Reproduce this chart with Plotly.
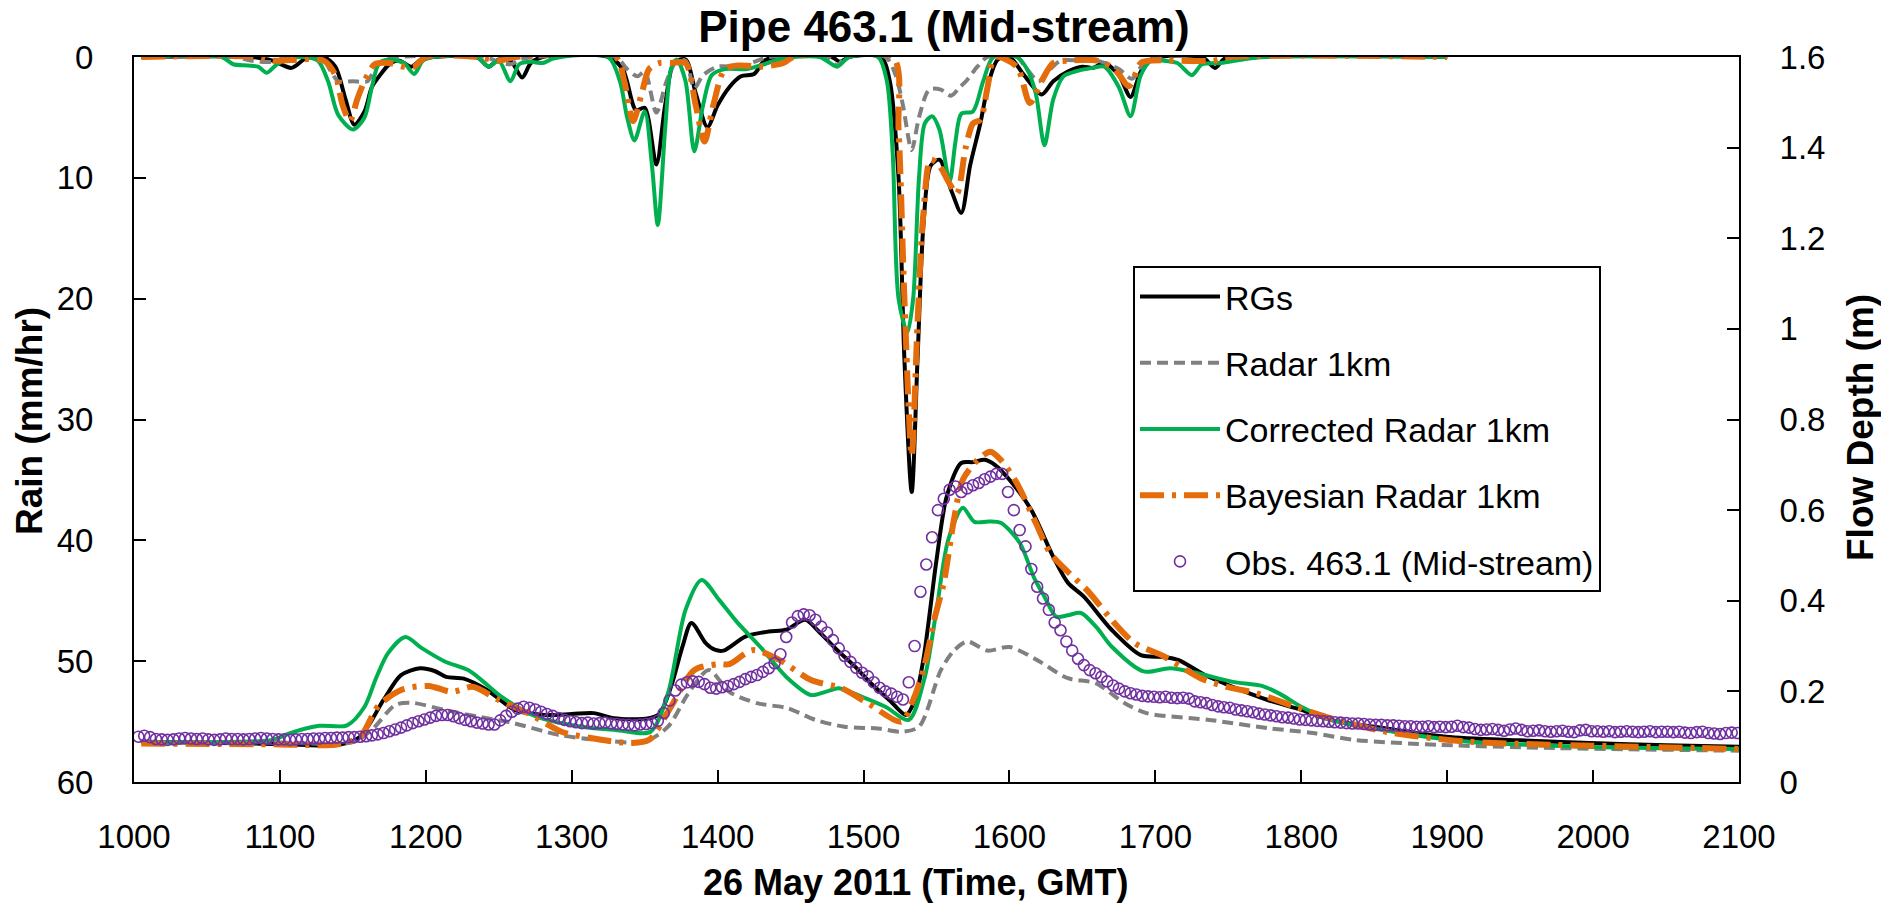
import plotly.graph_objects as go

# ---------------- data ----------------
# Rainfall (mm/hr) on the reversed left axis; time axis is 26 May 2011 (HHMM-like scale)
rg_rain_t = [1005, 1080, 1095, 1108, 1118, 1130, 1138, 1145, 1151, 1158,
             1163, 1168, 1175, 1182, 1190, 1197, 1205, 1235, 1243, 1250,
             1258, 1266, 1272, 1280, 1325, 1335, 1344, 1350, 1358, 1364,
             1370, 1378, 1385, 1393, 1400, 1408, 1416, 1425, 1432, 1440,
             1478, 1484, 1490, 1512, 1518, 1524, 1528, 1533, 1537, 1541,
             1546, 1552, 1560, 1567, 1573, 1580, 1586, 1592, 1600, 1610,
             1622, 1630, 1640, 1650, 1657, 1665, 1675, 1683, 1690, 1697,
             1732, 1741, 1748, 1900]
rg_rain = [0, 0, 0.3, 0.9, 0.1, 0, 0.8, 3.5, 5.6, 4.5,
           2.5, 1.6, 0.6, 0.3, 0.8, 0.2, 0, 0, 0.8, 0.2,
           0.3, 1.7, 0.5, 0, 0, 1.0, 4.4, 4.2, 8.9, 4.0,
           0.5, 0.2, 3.0, 5.8, 4.0, 2.5, 1.6, 1.4, 0.3, 0,
           0, 0.4, 0, 0, 2.0, 10, 25, 36, 25, 14,
           9, 8.5, 11, 12.9, 9, 5.5, 2, 0.2, 0, 1.5,
           3.1, 2.0, 1.2, 0.8, 0.9, 0.5, 1.5, 3.3, 1.2, 0.2,
           0, 0.9, 0.1, 0]

radar_rain_t = [1005, 1070, 1080, 1095, 1105, 1128, 1135, 1140, 1150, 1160,
                1165, 1172, 1180, 1240, 1250, 1258, 1265, 1275, 1330, 1338,
                1345, 1350, 1358, 1365, 1372, 1378, 1384, 1390, 1400, 1415,
                1425, 1435, 1475, 1482, 1488, 1515, 1522, 1527, 1533, 1538,
                1545, 1553, 1560, 1566, 1571, 1578, 1585, 1605, 1612, 1620,
                1628, 1635, 1650, 1660, 1675, 1684, 1692, 1700, 1900]
radar_rain = [0, 0, 0.3, 0.4, 0, 0, 1.2, 2.0, 2.0, 2.0,
              1.0, 0.2, 0, 0, 0.4, 0.6, 0.2, 0, 0, 1.0,
              1.6, 1.2, 4.6, 2.0, 0.3, 0.3, 2.6, 1.5, 0.8, 0.8,
              0.4, 0, 0, 0.7, 0, 0, 1.5, 4, 7.7, 5,
              2.7, 2.7, 3.2, 2.5, 1.9, 0.8, 0, 0, 1.0, 2.0,
              1.0, 0.3, 0.3, 0.3, 1.0, 1.8, 0.5, 0, 0]

corr_rain_t = [1005, 1060, 1068, 1078, 1085, 1091, 1098, 1105, 1115, 1126,
               1133, 1140, 1150, 1158, 1163, 1168, 1175, 1185, 1192, 1198,
               1205, 1235, 1243, 1250, 1258, 1264, 1272, 1280, 1288, 1325,
               1333, 1338, 1343, 1350, 1355, 1359, 1364, 1368, 1372, 1378,
               1384, 1390, 1396, 1405, 1420, 1432, 1445, 1470, 1482, 1490,
               1510, 1516, 1520, 1524, 1530, 1534, 1538, 1542, 1547, 1552,
               1559, 1563, 1567, 1575, 1582, 1589, 1605, 1612, 1618, 1624,
               1630, 1637, 1645, 1657, 1665, 1675, 1683, 1690, 1697, 1705,
               1715, 1725, 1732, 1745, 1760, 1775, 1900]
corr_rain = [0, 0, 0.6, 0.7, 0.8, 1.3, 0.6, 0.2, 0, 0.3,
             2, 4.8, 6.0, 5.0, 2.5, 0.5, 0.2, 0.5, 1.4, 0.3,
             0, 0, 0.8, 0.3, 2.0, 0.6, 0.4, 0.5, 0.1, 0,
             2.0, 5, 6.9, 4.5, 9, 13.9, 6, 1, 0.2, 2,
             7.8, 4, 1.5, 1.0, 1.0, 0.6, 0.1, 0, 0.8, 0,
             0, 2, 8, 20, 22.8, 20, 10, 5.5, 4.9, 6,
             10.3, 7, 4.7, 4.5, 2, 0, 0, 1, 3, 7.3,
             3.5, 1.6, 1.2, 0.9, 0.8, 2.5, 4.9, 1.5, 0.3, 0.3,
             0.5, 1.5, 0.6, 0.5, 0.2, 0, 0]

bayes_rain_t = [1005, 1085, 1095, 1130, 1138, 1143, 1148, 1153, 1158, 1165,
                1175, 1185, 1192, 1200, 1235, 1250, 1262, 1330, 1336, 1342,
                1348, 1353, 1360, 1368, 1378, 1385, 1391, 1397, 1405, 1415,
                1430, 1445, 1452, 1520, 1524, 1528, 1533, 1537, 1541, 1546,
                1552, 1559, 1564, 1570, 1575, 1580, 1585, 1590, 1605, 1614,
                1622, 1630, 1640, 1660, 1672, 1682, 1690, 1697, 1740, 1750,
                1900]
bayes_rain = [0, 0, 0.3, 0.3, 1.5, 4, 5.3, 3.5, 2, 0.6,
              0.5, 0.8, 0.8, 0, 0, 0.3, 0, 0, 2, 5.3,
              3, 1, 0.5, 0.5, 0.5, 4.0, 7.0, 4, 1, 0.7,
              0.8, 0.5, 0, 0, 6, 20, 33, 22, 13, 8.5,
              9, 10.5, 11.3, 7.5, 5.5, 5.2, 2.5, 0, 0.8, 3.8,
              2, 0.5, 0.3, 0.3, 1, 2.4, 0.5, 0.3, 0.3, 0,
              0]

# Flow depth (m) on the right axis
rg_flow_t = [1005, 1040, 1080, 1113, 1140, 1155, 1171, 1183, 1196, 1206,
             1214, 1226, 1242, 1261, 1281, 1300, 1315, 1329, 1352, 1360,
             1368, 1376, 1382, 1392, 1398, 1404, 1419, 1435, 1447, 1460,
             1470, 1482, 1494, 1505, 1518, 1529, 1535, 1541, 1550, 1557,
             1567, 1575, 1583, 1590, 1600, 1615, 1630, 1640, 1651, 1670,
             1690, 1706, 1716, 1734, 1753, 1777, 1800, 1820, 1856, 1899,
             1950, 1998, 2050, 2100]
rg_flow = [0.089, 0.087, 0.085, 0.082, 0.082, 0.10, 0.181, 0.236, 0.251, 0.245,
           0.232, 0.228, 0.203, 0.159, 0.148, 0.150, 0.152, 0.141, 0.14, 0.15,
           0.21, 0.30, 0.351, 0.306, 0.292, 0.29, 0.321, 0.332, 0.336, 0.358,
           0.33, 0.291, 0.255, 0.218, 0.18, 0.148, 0.18, 0.27, 0.49, 0.63,
           0.704, 0.706, 0.711, 0.70, 0.667, 0.60, 0.497, 0.44, 0.409, 0.336,
           0.28, 0.276, 0.269, 0.236, 0.21, 0.181, 0.159, 0.137, 0.119, 0.10,
           0.092, 0.086, 0.081, 0.078]

radar_flow_t = [1005, 1100, 1150, 1163, 1179, 1190, 1213, 1236, 1260, 1291,
                1318, 1350, 1366, 1380, 1394, 1408, 1427, 1448, 1467, 1487,
                1510, 1526, 1538, 1553, 1562, 1571, 1585, 1600, 1619, 1640,
                1659, 1679, 1694, 1737, 1777, 1808, 1836, 1895, 1974, 2100]
radar_flow = [0.087, 0.087, 0.088, 0.115, 0.17, 0.175, 0.159, 0.144, 0.13, 0.104,
              0.093, 0.089, 0.122, 0.196, 0.247, 0.199, 0.174, 0.163, 0.137, 0.122,
              0.118, 0.111, 0.122, 0.247, 0.29, 0.31, 0.29, 0.298, 0.269, 0.229,
              0.218, 0.174, 0.152, 0.137, 0.119, 0.108, 0.093, 0.082, 0.075, 0.069]

corr_flow_t = [1005, 1050, 1095, 1107, 1127, 1146, 1158, 1166, 1174, 1186,
               1197, 1213, 1229, 1240, 1252, 1276, 1307, 1330, 1354, 1366,
               1378, 1389, 1401, 1413, 1429, 1448, 1464, 1475, 1483, 1499,
               1515, 1531, 1542, 1550, 1558, 1568, 1576, 1586, 1594, 1607,
               1617, 1624, 1632, 1640, 1649, 1660, 1670, 1692, 1710, 1729,
               1753, 1773, 1785, 1800, 1820, 1863, 1915, 1994, 2100]
corr_flow = [0.089, 0.088, 0.093, 0.108, 0.124, 0.125, 0.166, 0.23, 0.284, 0.32,
             0.296, 0.266, 0.247, 0.22, 0.188, 0.144, 0.122, 0.115, 0.111, 0.196,
             0.38, 0.446, 0.402, 0.354, 0.299, 0.229, 0.192, 0.20, 0.207, 0.188,
             0.166, 0.137, 0.232, 0.38, 0.534, 0.605, 0.574, 0.575, 0.572, 0.528,
             0.45, 0.409, 0.365, 0.368, 0.373, 0.34, 0.299, 0.244, 0.251, 0.24,
             0.221, 0.212, 0.195, 0.166, 0.137, 0.111, 0.089, 0.078, 0.073]

bayes_flow_t = [1005, 1100, 1140, 1155, 1167, 1183, 1202, 1218, 1232, 1250,
                1270, 1293, 1313, 1341, 1353, 1368, 1384, 1400, 1408, 1424,
                1442, 1464, 1485, 1503, 1526, 1534, 1541, 1549, 1555, 1562,
                1568, 1578, 1587, 1594, 1605, 1618, 1628, 1640, 1653, 1673,
                1686, 1706, 1731, 1749, 1769, 1796, 1824, 1863, 1915, 1974,
                2072, 2100]
bayes_flow = [0.085, 0.083, 0.083, 0.10, 0.166, 0.203, 0.212, 0.199, 0.21, 0.181,
              0.152, 0.111, 0.097, 0.086, 0.093, 0.166, 0.247, 0.26, 0.26, 0.291,
              0.27, 0.225, 0.207, 0.174, 0.133, 0.181, 0.247, 0.365, 0.44, 0.58,
              0.667, 0.71, 0.729, 0.711, 0.66, 0.572, 0.505, 0.464, 0.424, 0.347,
              0.306, 0.277, 0.229, 0.21, 0.196, 0.166, 0.137, 0.108, 0.089, 0.082,
              0.075, 0.073]

# Observed flow depth at pipe 463.1 (regular logger interval)
obs_time = list(range(1003, 2100, 4))
obs_depth = [
    0.100, 0.102, 0.099, 0.095, 0.094, 0.093, 0.094, 0.096, 0.097, 0.096, 0.095, 0.096, 0.094,
    0.093, 0.094, 0.096, 0.095, 0.095, 0.094, 0.095, 0.096, 0.097, 0.096, 0.095, 0.094,
    0.094, 0.093, 0.094, 0.095, 0.095, 0.096, 0.096, 0.097, 0.097, 0.098, 0.098, 0.099, 0.099,
    0.100, 0.101, 0.103, 0.105, 0.108, 0.112, 0.116, 0.120, 0.125, 0.130, 0.134, 0.138,
    0.142, 0.146, 0.148, 0.148, 0.145, 0.141, 0.137, 0.134, 0.131, 0.129, 0.127, 0.127, 0.136,
    0.146, 0.155, 0.162, 0.166, 0.164, 0.160, 0.155, 0.150, 0.146, 0.141, 0.137, 0.134,
    0.132, 0.130, 0.131, 0.129, 0.130, 0.131, 0.129, 0.128, 0.127, 0.126, 0.125, 0.127, 0.128,
    0.130, 0.135, 0.152, 0.180, 0.202, 0.215, 0.220, 0.222, 0.221, 0.216, 0.208, 0.206,
    0.209, 0.212, 0.216, 0.221, 0.227, 0.232, 0.236, 0.243, 0.251, 0.262, 0.282, 0.320, 0.352,
    0.366, 0.370, 0.368, 0.358, 0.343, 0.330, 0.313, 0.295, 0.278, 0.265, 0.252, 0.241,
    0.233, 0.220, 0.208, 0.200, 0.195, 0.188, 0.182, 0.220, 0.300, 0.420, 0.480, 0.540, 0.600,
    0.625, 0.645, 0.652, 0.640, 0.648, 0.655, 0.660, 0.668, 0.674, 0.680, 0.680, 0.640,
    0.600, 0.556, 0.520, 0.470, 0.431, 0.405, 0.380, 0.352, 0.335, 0.310, 0.290, 0.272, 0.258,
    0.247, 0.240, 0.232, 0.222, 0.213, 0.206, 0.200, 0.196, 0.193, 0.190, 0.189, 0.188,
    0.187, 0.188, 0.186, 0.185, 0.186, 0.184, 0.178, 0.176, 0.174, 0.170, 0.167, 0.165, 0.164,
    0.160, 0.158, 0.156, 0.154, 0.151, 0.149, 0.147, 0.145, 0.143, 0.142, 0.140, 0.138,
    0.137, 0.136, 0.135, 0.134, 0.133, 0.132, 0.131, 0.130, 0.129, 0.129, 0.128, 0.127, 0.126,
    0.126, 0.125, 0.125, 0.124, 0.123, 0.123, 0.122, 0.122, 0.123, 0.121, 0.122, 0.121,
    0.122, 0.124, 0.121, 0.120, 0.117, 0.115, 0.116, 0.117, 0.115, 0.113, 0.116, 0.118, 0.115,
    0.112, 0.113, 0.114, 0.112, 0.111, 0.112, 0.113, 0.111, 0.110, 0.114, 0.115, 0.112,
    0.112, 0.111, 0.112, 0.110, 0.111, 0.112, 0.111, 0.110, 0.111, 0.112, 0.110, 0.111, 0.111,
    0.110, 0.111, 0.109, 0.108, 0.110, 0.111, 0.108, 0.107, 0.106, 0.108, 0.109, 0.108,
]

series_names = ["RGs", "Radar 1km", "Corrected Radar 1km", "Bayesian Radar 1km"]
obs_name = "Obs. 463.1 (Mid-stream)"
title_text = "Pipe 463.1 (Mid-stream)"
x_title = "26 May 2011 (Time, GMT)"
y_title = "Rain (mm/hr)"
y2_title = "Flow Depth (m)"

# ---------------- styling ----------------
FONT = "Liberation Sans, Arial, sans-serif"
styles = [
    dict(color="#000000", width=4, dash="solid"),
    dict(color="#808080", width=4, dash="11px,6px"),
    dict(color="#00B050", width=4, dash="solid"),
    dict(color="#E46C0A", width=6, dash="24px,8px,4px,8px"),
]
rain_data = [(rg_rain_t, rg_rain), (radar_rain_t, radar_rain),
             (corr_rain_t, corr_rain), (bayes_rain_t, bayes_rain)]
flow_data = [(rg_flow_t, rg_flow), (radar_flow_t, radar_flow),
             (corr_flow_t, corr_flow), (bayes_flow_t, bayes_flow)]

fig = go.Figure()
for name, st, (rt, rv), (ft, fv) in zip(series_names, styles, rain_data, flow_data):
    line = dict(color=st["color"], width=st["width"], dash=st["dash"],
                shape="spline", smoothing=0.8)
    fig.add_trace(go.Scatter(x=rt, y=rv, yaxis="y", mode="lines", line=line,
                             name=name, legendgroup=name, showlegend=True))
    fig.add_trace(go.Scatter(x=ft, y=fv, yaxis="y2", mode="lines", line=line,
                             name=name, legendgroup=name, showlegend=False))

fig.add_trace(go.Scatter(
    x=obs_time, y=obs_depth, yaxis="y2", mode="markers", name=obs_name,
    legendgroup="obs",
    marker=dict(symbol="circle-open", size=11, color="#7030A0",
                line=dict(width=1.6, color="#7030A0")),
))

axis_common = dict(
    ticks="inside", ticklen=12, tickwidth=2, tickcolor="black",
    showline=True, linewidth=2, linecolor="black",
    showgrid=False, zeroline=False,
    tickfont=dict(family=FONT, size=33, color="black"),
)

# plot area in pixels: x 134..1739, y 57..782
PL, PR, PT, PB = 134, 1739, 57, 782
def px_x(p):
    return (p - PL) / (PR - PL)
def px_y(p):
    return (PB - p) / (PB - PT)

title_font = dict(family=FONT, size=37, weight="bold", color="black")
annotations = [
    dict(text=x_title, xref="paper", yref="paper", x=px_x(916), y=px_y(883),
         xanchor="center", yanchor="middle", showarrow=False,
         font=dict(family=FONT, size=36, weight="bold", color="black")),
    dict(text=y_title, xref="paper", yref="paper", x=px_x(29), y=px_y(421),
         xanchor="center", yanchor="middle", showarrow=False, textangle=-90,
         font=title_font),
    dict(text=y2_title, xref="paper", yref="paper", x=px_x(1861), y=px_y(428),
         xanchor="center", yanchor="middle", showarrow=False, textangle=-90,
         font=title_font),
]

fig.update_layout(
    width=1881, height=908,
    margin=dict(l=PL, r=1881 - PR, t=PT, b=908 - PB),
    paper_bgcolor="white", plot_bgcolor="white",
    font=dict(family=FONT, size=33, color="black"),
    title=dict(text=title_text, x=px_x(944), xref="paper", xanchor="center",
               y=1 - 27 / 908, yref="container", yanchor="middle",
               font=dict(family=FONT, size=44, weight="bold", color="black")),
    xaxis=dict(range=[1000, 2100], tick0=1000, dtick=100, mirror=True,
               ticklabelstandoff=24, **axis_common),
    yaxis=dict(range=[60, 0], tick0=0, dtick=10, ticklabelstandoff=32,
               **axis_common),
    yaxis2=dict(range=[0, 1.6], tick0=0, dtick=0.2, overlaying="y", side="right",
                ticklabelstandoff=32, **axis_common),
    legend=dict(x=px_x(1133), y=px_y(266), xanchor="left", yanchor="top",
                bgcolor="white", bordercolor="black", borderwidth=2,
                font=dict(family=FONT, size=34, color="black"),
                traceorder="grouped", tracegroupgap=19, itemwidth=80),
    annotations=annotations,
    showlegend=True,
)

fig.write_html("out.html")
